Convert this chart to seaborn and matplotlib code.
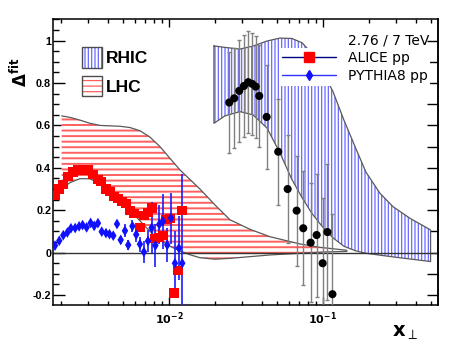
import numpy as np
import pandas as pd
import seaborn as sns
import matplotlib.pyplot as plt
from matplotlib.patches import Patch
from matplotlib.lines import Line2D

# ALICE pp (red squares)
alice_x = [0.00182, 0.00193, 0.00205, 0.00221, 0.00238, 0.00257, 0.00277, 0.00298,
           0.00321, 0.00346, 0.00362, 0.00390, 0.00414, 0.00440, 0.00467, 0.00495,
           0.00526, 0.00558, 0.00593, 0.00648, 0.00688, 0.00731, 0.00776, 0.00811,
           0.00861, 0.00914, 0.00956, 0.01015, 0.01078, 0.01144, 0.01214]
alice_y = [0.27, 0.30, 0.32, 0.36, 0.38, 0.39, 0.39, 0.39,
           0.37, 0.345, 0.335, 0.30, 0.29, 0.265, 0.255, 0.24,
           0.23, 0.20, 0.185, 0.12, 0.175, 0.19, 0.21, 0.067,
           0.073, 0.079, 0.157, 0.162, -0.19, -0.086, 0.198]

# PYTHIA8 pp (blue diamonds)
pythia_x = [0.00182, 0.00194, 0.00206, 0.00219, 0.00231, 0.00246, 0.00261, 0.00275,
            0.00292, 0.00310, 0.00327, 0.00346, 0.00366, 0.00390, 0.00411, 0.00435,
            0.00460, 0.00486, 0.00518, 0.00544, 0.00579, 0.00613, 0.00648, 0.00688,
            0.00731, 0.00772, 0.00817, 0.00865, 0.00914, 0.00975, 0.01030, 0.01094,
            0.01161, 0.01220]
pythia_y = [0.033, 0.056, 0.082, 0.095, 0.115, 0.116, 0.124, 0.13,
            0.119, 0.14, 0.126, 0.139, 0.099, 0.092, 0.087, 0.08,
            0.135, 0.06, 0.103, 0.036, 0.125, 0.085, 0.04, 0.003,
            0.055, 0.117, 0.034, 0.133, 0.148, 0.036, 0.163, -0.05,
            0.021, -0.05]
pythia_err = [0.005, 0.005, 0.005, 0.005, 0.005, 0.005, 0.005, 0.005,
              0.005, 0.005, 0.005, 0.005, 0.005, 0.005, 0.005, 0.005,
              0.02, 0.02, 0.03, 0.025, 0.03, 0.035, 0.035, 0.05,
              0.05, 0.12, 0.10, 0.09, 0.13, 0.08, 0.12, 0.15,
              0.15, 0.42]

# RHIC data (black circles)
rhic_x = [0.02464, 0.02655, 0.02861, 0.03069, 0.03272, 0.03474, 0.03656, 0.03858,
          0.04310, 0.05125, 0.05900, 0.06749, 0.07450, 0.08321, 0.09103, 0.09957,
          0.1070, 0.1153]
rhic_y = [0.708, 0.728, 0.763, 0.786, 0.804, 0.796, 0.783, 0.739,
          0.64, 0.476, 0.30, 0.198, 0.115, 0.047, 0.083, -0.05,
          0.097, -0.196]
rhic_err = [0.236, 0.236, 0.24, 0.24, 0.24, 0.24, 0.24, 0.24,
            0.244, 0.25, 0.255, 0.26, 0.27, 0.28, 0.29, 0.31,
            0.32, 0.38]

# LHC fit band
lhc_band_x = [0.00201, 0.002276, 0.002643, 0.003069, 0.003564, 0.004139, 0.004807,
              0.005582, 0.006482, 0.007527, 0.008742, 0.01015, 0.01179, 0.01369,
              0.01590, 0.01990, 0.02490, 0.03357, 0.04527, 0.07090, 0.09561, 0.1432]
lhc_band_hi = [0.645, 0.638, 0.625, 0.61, 0.60, 0.598, 0.596,
               0.59, 0.575, 0.545, 0.50, 0.445, 0.39, 0.345,
               0.30, 0.225, 0.155, 0.11, 0.075, 0.041, 0.025, 0.011]
lhc_band_lo = [0.30, 0.33, 0.349, 0.348, 0.325, 0.29, 0.245,
               0.20, 0.15, 0.10, 0.06, 0.03, 0.008, -0.01,
               -0.024, -0.031, -0.027, -0.019, -0.011, -0.003, 0.002, 0.006]

# RHIC fit band
rhic_band_x = [0.0196, 0.0231, 0.0289, 0.0351, 0.0433, 0.0526, 0.0629, 0.0731, 0.0848,
               0.0985, 0.1161, 0.1369, 0.1638, 0.1902, 0.2345, 0.2848, 0.3672, 0.50]
rhic_band_hi = [0.975, 0.968, 0.96, 0.974, 0.998, 1.012, 1.01, 0.99, 0.94,
                0.86, 0.76, 0.625, 0.49, 0.38, 0.28, 0.217, 0.162, 0.107]
rhic_band_lo = [0.61, 0.645, 0.665, 0.65, 0.588, 0.47, 0.345, 0.26, 0.185,
                0.125, 0.07, 0.03, 0.008, -0.003, -0.012, -0.02, -0.03, -0.042]

ytick_vals = [-0.2, 0, 0.2, 0.4, 0.6, 0.8, 1.0]
ytick_labels = ['-0.2', '0', '0.2', '0.4', '0.6', '0.8', '1']
xtick_vals = [0.01, 0.1]
xtick_labels = [r'$\mathbf{10^{-2}}$', r'$\mathbf{10^{-1}}$']

lhc_color = '#ff6060'
rhic_color = '#6a6aff'
outline = '0.35'

sns.set_style('ticks')
plt.rcParams['font.family'] = ['Liberation Sans', 'DejaVu Sans']
plt.rcParams['text.color'] = 'black'
plt.rcParams['xtick.color'] = 'black'
plt.rcParams['ytick.color'] = 'black'
plt.rcParams['axes.edgecolor'] = 'black'

fig = plt.figure(figsize=(4.57, 3.49), dpi=100)
ax = fig.add_axes([0.1166, 0.1261, 0.8411, 0.8195])

# bands
plt.rcParams['hatch.linewidth'] = 1.4
ax.fill_between(lhc_band_x, lhc_band_lo, lhc_band_hi, facecolor='white',
                edgecolor=lhc_color, hatch='---', linewidth=0, zorder=1)
lhc_box = Patch(facecolor='white', edgecolor=lhc_color, hatch='---', lw=0)
ax.plot(lhc_band_x, lhc_band_hi, color=outline, lw=0.9, zorder=2)
ax.plot(lhc_band_x, lhc_band_lo, color=outline, lw=0.9, zorder=2)

plt.rcParams['hatch.linewidth'] = 0.9
ax.fill_between(rhic_band_x, rhic_band_lo, rhic_band_hi, facecolor='white',
                edgecolor=rhic_color, hatch='|||||', linewidth=0, zorder=1)
rhic_box = Patch(facecolor='white', edgecolor=rhic_color, hatch='|||||', lw=0)
band = pd.DataFrame({'x': rhic_band_x, 'lo': rhic_band_lo, 'hi': rhic_band_hi})
ax.plot(np.r_[band.x, band.x[::-1], band.x[:1]],
        np.r_[band.hi, band.lo[::-1], band.hi[:1]], color=outline, lw=0.9, zorder=2)

ax.axhline(0, color='0.2', lw=1, zorder=2)

# error bars
ax.errorbar(rhic_x, rhic_y, yerr=rhic_err, fmt='none', ecolor='0.5',
            elinewidth=1, capsize=1.5, zorder=3)
ax.errorbar(pythia_x, pythia_y, yerr=pythia_err, fmt='none', ecolor='#1a1aff',
            elinewidth=1.2, zorder=3)

# markers
sns.scatterplot(x=alice_x, y=alice_y, marker='s', s=44, color='#ff0000',
                edgecolor='none', ax=ax, zorder=4)
sns.scatterplot(x=pythia_x, y=pythia_y, marker='d', s=30, color='#1010ff',
                edgecolor='none', ax=ax, zorder=4)
sns.scatterplot(x=rhic_x, y=rhic_y, marker='o', s=34, color='black',
                edgecolor='none', ax=ax, zorder=4)

ax.set_xscale('log')
ax.set_xlim(1.774e-3, 0.556)
ax.set_ylim(-0.247, 1.102)
ax.set_xlabel('')
ax.set_ylabel('')

ax.set_yticks(ytick_vals, ytick_labels)
ax.yaxis.set_minor_locator(plt.MultipleLocator(0.05))
ax.set_xticks(xtick_vals, xtick_labels)
ax.xaxis.set_minor_formatter(plt.NullFormatter())

for s in ax.spines.values():
    s.set_linewidth(1.1)
    s.set_color('black')

ax.tick_params(axis='y', which='major', direction='in', length=8.4, width=1,
               labelsize=7.8, pad=1.5)
ax.tick_params(axis='y', which='minor', direction='in', length=4.3, width=1)
ax.tick_params(axis='x', which='major', direction='in', length=5.8, width=1,
               top=True, labelsize=8, pad=4)
ax.tick_params(axis='x', which='minor', direction='in', length=2.6, width=1, top=True)
for lab in ax.get_yticklabels():
    lab.set_fontweight('bold')

secax = ax.secondary_yaxis('right')
secax.set_yticks(np.arange(-0.2, 1.05, 0.1))
secax.tick_params(direction='in', length=7.7, width=1, labelright=False)
secax.spines['right'].set_linewidth(1.1)

# legends
rhic_handle = (rhic_box, Patch(facecolor='none', edgecolor='0.3', lw=1))
lhc_handle = (lhc_box, Patch(facecolor='none', edgecolor='0.3', lw=1))
leg1 = ax.legend([rhic_handle, lhc_handle], ['RHIC', 'LHC'], loc='upper left',
                 bbox_to_anchor=(0.1788, 0.865), bbox_transform=fig.transFigure,
                 frameon=False, prop=dict(family='Liberation Sans', weight='bold', size=12.5),
                 handlelength=1.15, handleheight=1.45, handletextpad=0.25,
                 labelspacing=0.45, borderpad=0, borderaxespad=0)
ax.add_artist(leg1)

handles2 = [Line2D([], [], color='#000080', lw=1, marker='s', ms=6.5,
                   mfc='#ff0000', mec='#ff0000'),
            Line2D([], [], color='#3030ff', lw=1, marker='d', ms=5,
                   mfc='#1010ff', mec='#1010ff')]
leg2 = ax.legend(handles2, ['ALICE pp', 'PYTHIA8 pp'], loc='upper left',
                 bbox_to_anchor=(0.611, 0.8613), bbox_transform=fig.transFigure,
                 frameon=True, facecolor='white', edgecolor='none', framealpha=1,
                 fancybox=False, prop=dict(family='DejaVu Sans', size=10),
                 handlelength=3.9, handletextpad=0.83, labelspacing=0.27,
                 borderpad=0.2, borderaxespad=0, numpoints=1)
leg2.set_zorder(6)

fig.text(348.3 / 457, 1 - 40 / 349, '2.76 / 7 TeV', family='DejaVu Sans',
         fontsize=10, ha='left', va='center')

fig.text(19 / 457, 1 - 72 / 349, r'$\mathbf{\Delta}^{\mathbf{fit}}$', rotation=90,
         fontsize=12, ha='center', va='center')
fig.text(405 / 457, 1 - 333 / 349, r'$\mathbf{x}_{\perp}$', fontsize=14,
         ha='center', va='center')

fig.savefig('out.png', dpi=100)
